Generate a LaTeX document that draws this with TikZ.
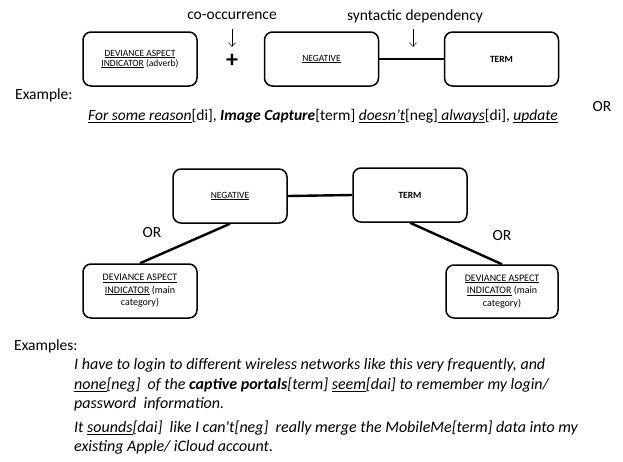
\documentclass[tikz,border=0pt]{standalone}
\usepackage{fontspec}
\setmainfont{Carlito}
\usetikzlibrary{arrows.meta}
\newcommand\ulx[1]{\setbox0\hbox{#1}\rlap{\rule[-0.14em]{\wd0}{0.055em}}\box0\relax}
\begin{document}
\begin{tikzpicture}[x=1pt,y=-1pt,
 box/.style={draw, rounded corners=8pt, line width=1.5pt, minimum width=114pt, minimum height=54pt, inner sep=0pt, align=center, font=\fontsize{9.5}{10.5}\selectfont},
 bbox/.style={box, font=\fontsize{10}{12.5}\selectfont},
 conn/.style={line width=2.4pt},
 lbl/.style={font=\fontsize{15.5}{19}\selectfont, inner sep=0pt},
 itl/.style={font=\fontsize{16}{19}\selectfont\itshape, inner sep=0pt, anchor=mid west},
 pt/.style={-{Straight Barb[length=4pt,width=7pt]}, line width=0.5pt}
]
\useasboundingbox (0,0) rectangle (623,461);

% top row
\node[box] (dai1) at (140,59) {\ulx{DEVIANCE ASPECT}\\\ulx{INDICATOR} (adverb)};
\node[box] (neg1) at (321.5,59) {\ulx{NEGATIVE}};
\node[box, font=\fontsize{9.5}{10.5}\selectfont\bfseries] (term1) at (501.5,59) {TERM};
\draw[conn] (neg1.east) -- (term1.west);
\node[font=\fontsize{24}{24}\selectfont\bfseries, inner sep=0pt] (plus) at (232,61) {+};

\node[lbl] (cooc) at (232,16) {co-occurrence};
\node[lbl] (synd) at (415,16) {syntactic dependency};
\coordinate (a1s) at (232,29); \coordinate (a1e) at (232,47);
\coordinate (a2s) at (413,29); \coordinate (a2e) at (413,47);
\draw[pt] (a1s) -- (a1e);
\draw[pt] (a2s) -- (a2e);

\node[lbl, anchor=mid west] (exlab) at (15,97) {Example:};
\node[lbl, anchor=mid west] (ex1) at (88,118) {\ulx{\textit{For some reason}}[di], \textbf{\textit{Image Capture}}[term] \ulx{\textit{doesn’t}}[neg]\ulx{\ \textit{always}}[di], \ulx{\textit{update}}};
\node[lbl] (or1) at (602,107) {OR};

% middle
\node[box] (neg2) at (230,196) {\ulx{NEGATIVE}};
\node[box, font=\fontsize{9.5}{10.5}\selectfont\bfseries] (term2) at (410,195) {TERM};
\node[bbox] (dai2) at (140,291) {\ulx{DEVIANCE ASPECT}\\\ulx{INDICATOR} (main\\category)};
\node[bbox, minimum width=112pt, minimum height=53pt] (dai3) at (502,291.5) {\ulx{DEVIANCE ASPECT}\\\ulx{INDICATOR} (main\\category)};
\draw[conn] (neg2.east) -- (term2.west);
\draw[conn] (neg2.south) -- (dai2.north);
\draw[conn] (term2.south) -- (dai3.north);
\node[lbl] (or2) at (152,233) {OR};
\node[lbl] (or3) at (502,236) {OR};

% bottom
\node[lbl, anchor=mid west] (exslab) at (14,348) {Examples:};
\node[itl] (l1) at (74,367) {I have to login to different wireless networks like this very frequently, and};
\node[itl] (l2) at (74,387) {\ulx{none}[neg] \ of the \textbf{captive portals}[term] \ulx{seem}[dai] to remember my login/};
\node[itl] (l3) at (74,406) {password \ information.};
\node[itl] (l4) at (74,430) {It \ulx{sounds}[dai] \ like I can\textquotesingle t[neg] \ really merge the MobileMe[term] data into my};
\node[itl] (l5) at (74,449) {existing Apple/ iCloud account.};
\end{tikzpicture}
\end{document}
